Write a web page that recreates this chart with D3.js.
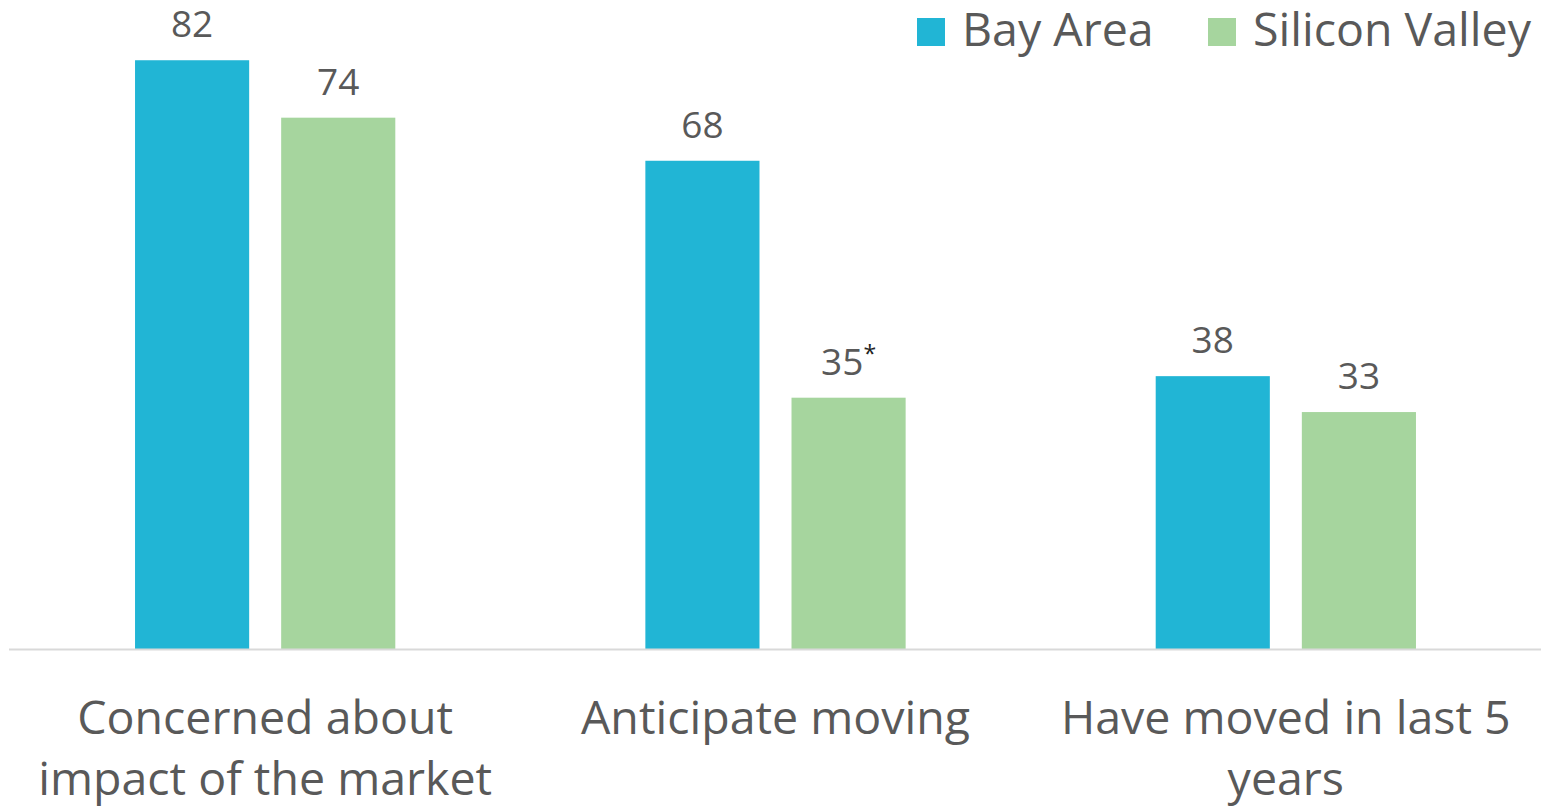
<!DOCTYPE html>
<html>
<head>
<meta charset="utf-8">
<script src="https://cdn.jsdelivr.net/npm/d3@7"></script>
<style>
  body { margin: 0; background: #fff; }
  text { font-family: "Open Sans", sans-serif; fill: #595959; }
</style>
</head>
<body>
<svg width="1546" height="809"></svg>
<script>
var categories = ["Concerned about\nimpact of the market", "Anticipate moving", "Have moved in last 5\nyears"];
var series = ["Bay Area", "Silicon Valley"];
var bayArea = [82, 68, 38];
var siliconValley = [74, 35, 33];
var valueLabels = [["82", "74"], ["68", "35*"], ["38", "33"]];
var colors = ["#21B5D5", "#A6D59E"];

var svg = d3.select("svg");
var width = +svg.attr("width");
var height = +svg.attr("height");

var baseline = 649;

var x0 = d3.scaleBand()
	.domain(categories)
	.range([10, 1541]);

var x1 = d3.scaleBand()
	.domain(series)
	.range([x0.bandwidth() * 0.245, x0.bandwidth() * 0.755])
	.paddingInner(0.219);

var y = d3.scaleLinear()
	.domain([0, 90])
	.range([baseline, baseline - 7.18 * 90]);

var rows = categories.map((c, i) => ({
	cat: c,
	vals: [bayArea[i], siliconValley[i]],
	labels: valueLabels[i]
}));

var groups = svg.append("g")
	.selectAll("g")
	.data(rows)
	.enter().append("g")
	.attr("transform", d => "translate(" + x0(d.cat) + ",0)");

groups.selectAll("rect")
	.data(d => d.vals.map((v, j) => ({ s: series[j], v: v, c: colors[j] })))
	.enter().append("rect")
	.attr("x", d => x1(d.s))
	.attr("y", d => y(d.v))
	.attr("width", x1.bandwidth())
	.attr("height", d => baseline - y(d.v))
	.attr("fill", d => d.c);

var vl = groups.selectAll("text.val")
	.data(d => d.vals.map((v, j) => ({ s: series[j], v: v, label: d.labels[j] })))
	.enter().append("text")
	.attr("class", "val")
	.attr("x", d => x1(d.s) + x1.bandwidth() / 2)
	.attr("y", d => y(d.v) - 23)
	.attr("text-anchor", "middle")
	.style("font-size", "37px");

vl.append("tspan").text(d => d.label.replace("*", ""));
vl.filter(d => d.label.indexOf("*") >= 0)
	.append("tspan")
	.attr("dy", -13)
	.style("font-size", "23px")
	.style("fill", "#222")
	.text("*");

// axis line
svg.append("line")
	.attr("x1", 9).attr("x2", 1541)
	.attr("y1", baseline + 0.5).attr("y2", baseline + 0.5)
	.attr("stroke", "#D9D9D9")
	.attr("stroke-width", 2);

// category labels
var cl = svg.append("g")
	.selectAll("text")
	.data(categories)
	.enter().append("text")
	.attr("x", d => x0(d) + x0.bandwidth() / 2)
	.attr("y", 734)
	.attr("text-anchor", "middle")
	.style("font-size", "46.5px");

cl.selectAll("tspan")
	.data(d => d.split("\n"))
	.enter().append("tspan")
	.attr("x", function() { return d3.select(this.parentNode).attr("x"); })
	.attr("dy", (d, i) => i ? 61 : 0)
	.text(d => d);

// legend
var legendX = [917, 1208];
var leg = svg.append("g")
	.selectAll("g")
	.data(series)
	.enter().append("g")
	.attr("transform", (d, i) => "translate(" + legendX[i] + ",18)");

leg.append("rect")
	.attr("width", 28)
	.attr("height", 28)
	.attr("fill", (d, i) => colors[i]);

leg.append("text")
	.attr("x", 45)
	.attr("y", 28)
	.style("font-size", "46.5px")
	.text(d => d);
</script>
</body>
</html>
